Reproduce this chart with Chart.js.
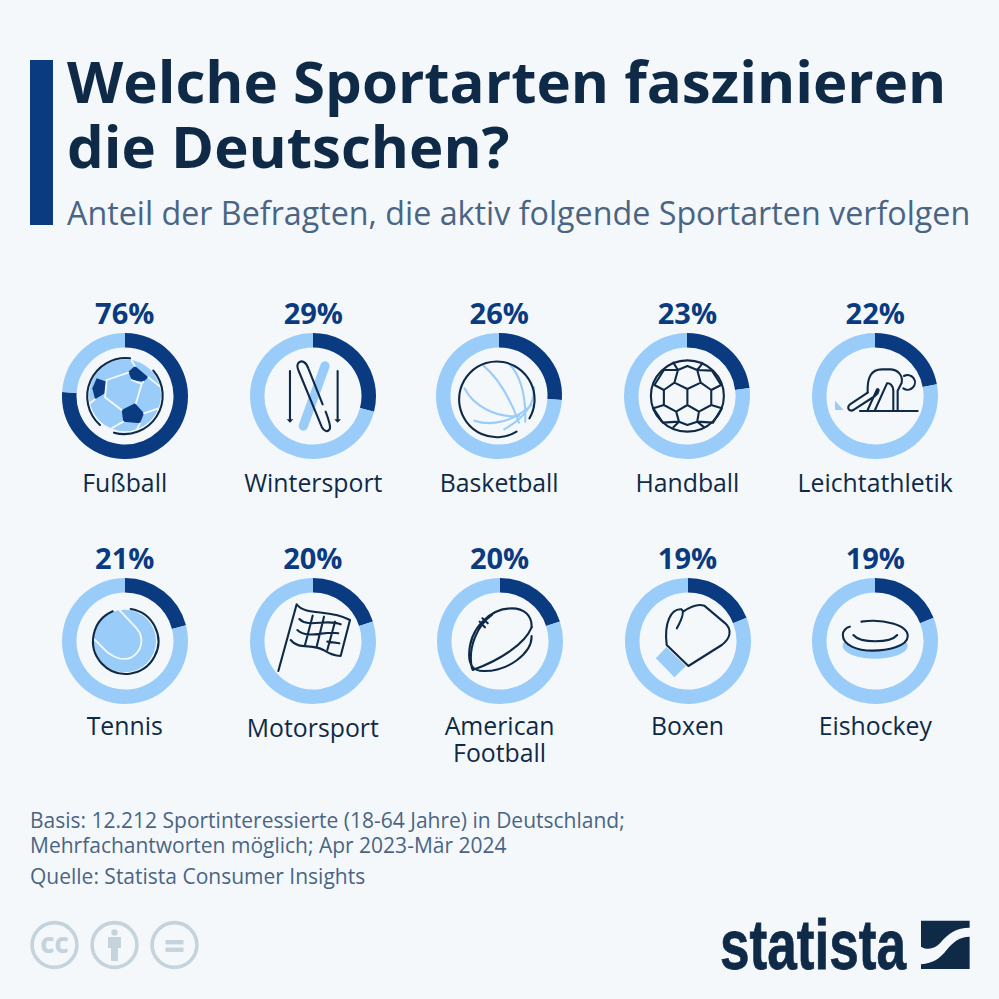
<!DOCTYPE html>
<html lang="de">
<head>
<meta charset="utf-8">
<title>Welche Sportarten faszinieren die Deutschen?</title>
<script src="https://cdn.jsdelivr.net/npm/chart.js@4"></script>
<style>
  html, body { margin: 0; padding: 0; background: #f4f8fb; }
  #page { position: relative; width: 999px; height: 999px; overflow: hidden; background: #f4f8fb; font-family: 'Open Sans', sans-serif; }
  #page canvas { position: absolute; }
  #overlay { position: absolute; left: 0; top: 0; }
  .ln { fill: none; stroke: #0f2a47; stroke-width: 2.1; stroke-linecap: round; stroke-linejoin: round; vector-effect: non-scaling-stroke; }
  .lt { fill: none; stroke: #9accfa; stroke-width: 2.1; stroke-linecap: round; vector-effect: non-scaling-stroke; }
  .wh { fill: none; stroke: #f4f8fb; stroke-width: 1.8; stroke-linecap: round; vector-effect: non-scaling-stroke; }
  .fd { fill: #9accfa; }
  .fn { fill: #0a3a80; }
</style>
</head>
<body>
<div id="page">
  <svg id="overlay" width="999" height="999" xmlns="http://www.w3.org/2000/svg">
    <rect x="30" y="60" width="23" height="165" fill="#0a3a80"/>
    <text font-size="58.2" font-weight="700" fill="#0f2a47">
      <tspan x="67" y="103">Welche Sportarten faszinieren</tspan>
      <tspan x="67" y="168">die Deutschen?</tspan>
    </text>
    <text x="67" y="225" font-size="32.25" fill="#4a6584">Anteil der Befragten, die aktiv folgende Sportarten verfolgen</text>

    <g id="labels"></g>

    <!-- Fußball -->
    <g transform="translate(40,290) scale(.3333)">
      <circle cx="255" cy="316" r="108" class="fd"/>
      <polygon class="fn" points="265,245 285,228 325,262 310,275 275,270"/>
      <polygon class="fn" points="170,265 200,275 195,310 165,328 157,295"/>
      <polygon class="fn" points="285,340 312,370 300,400 250,395 245,360"/>
      <path class="wh" d="M200 270 L265 248 M275 270 L305 282 L288 340 M245 360 L195 322 L200 270 M325 262 L360 290 M312 370 L355 355 M300 400 L290 420 M250 395 L215 415 M165 328 L150 340 M285 228 L275 213 M305 282 L310 275"/>
      <path class="ln" d="M270 205 A115 115 0 0 0 180 405 M222 428 A115 115 0 0 0 340 242"/>
    </g>
    <!-- Wintersport -->
    <g transform="translate(40,290) scale(.3333)">
      <path d="M855 228 L790 408" fill="none" stroke="#9accfa" stroke-width="28" stroke-linecap="round"/>
      <path class="ln" d="M848 343 L805 235 C798 215 785 210 776 218 C770 224 772 232 775 240 L845 410 C852 425 865 428 870 415 C872 405 868 395 857 365"/>
      <path class="ln" d="M750 243 L750 392 M893 243 L893 392"/>
      <polygon points="740,388 760,388 750,398" fill="#0f2a47"/>
      <polygon points="883,388 903,388 893,398" fill="#0f2a47"/>
    </g>
    <!-- Basketball -->
    <g transform="translate(420,290) scale(.3509,.3333)">
      <path class="lt" d="M180 226 C225 265 255 320 282 398 M255 222 C290 262 302 325 300 395 M127 295 C150 345 215 385 282 378 M325 292 C328 345 295 385 240 418 M155 392 C205 410 265 395 318 345"/>
      <path class="ln" d="M275 425 A107.5 113.5 0 1 1 312 385"/>
    </g>
    <!-- Handball -->
    <g transform="translate(420,290) scale(.3509,.3333)">
      <ellipse class="ln" cx="762" cy="318" rx="104" ry="107"/>
      <path class="ln" d="M762 297 L725 278 L695 300 L695 345 L730 365 L762 345 L795 365 L830 345 L830 300 L800 278 L762 297 L762 345 M725 278 L735 240 L762 228 L790 240 L800 278 M730 365 L738 395 L762 405 L790 395 L795 365 M695 300 L668 285 M695 345 L665 355 M830 300 L858 285 M830 345 L860 355 M735 240 L722 218 M790 240 L805 220 M738 395 L722 412 M790 395 L810 412 M668 285 L695 240 L735 240 M858 285 L832 242 L790 240 M665 355 L692 398 L738 395 M860 355 L835 398 L790 395"/>
    </g>
    <!-- Leichtathletik -->
    <g transform="translate(825,360) scale(.3333)">
      <polygon class="fd" points="30,122 30,150 56,150"/>
      <path class="ln" d="M105 153 L278 153 M237 48 A22 22 0 1 1 235 85"/>
      <path class="ln" d="M128 98 C126 50 140 28 170 28 L198 28 C222 30 234 50 230 68 L218 92 L218 153"/>
      <path class="ln" d="M205 153 L205 92 C205 78 195 68 186 70 L150 150"/>
      <path class="ln" d="M128 98 L75 133 C62 145 75 158 88 148 L150 108 C165 95 162 85 156 88 L128 150"/>
    </g>
    <!-- Tennis -->
    <g transform="translate(40,540) scale(.3333)">
      <circle class="fd" cx="254" cy="303" r="94"/>
      <path class="wh" d="M238 210 L290 265 C315 295 305 335 275 352 C245 365 220 350 200 335 L163 298"/>
      <path class="ln" d="M218 214 A98 98 0 1 0 272 207"/>
    </g>
    <!-- Motorsport -->
    <g transform="translate(270,595) scale(.3333)">
      <path class="ln" d="M25 228 L80 28 C110 65 175 40 240 75 L212 183 C195 183 180 178 160 165 C125 145 85 165 62 135"/>
      <path class="ln" d="M88 72 C115 100 170 70 212 88 M82 105 C115 135 165 105 205 115 M172 140 L208 145 M128 62 L105 150 M162 65 L140 155 M195 80 L172 165"/>
    </g>
    <!-- American Football -->
    <g transform="translate(420,540) scale(.3509,.3333)">
      <path class="ln" d="M318 262 C320 225 295 205 262 205 C200 205 140 265 140 345 C140 375 150 392 180 393 C250 395 320 340 318 288"/>
      <path class="ln" d="M150 390 C230 360 300 310 318 262 M148 385 C135 320 165 255 205 225 M165 265 L195 230 M170 245 L185 262 M178 235 L193 250"/>
    </g>
    <!-- Boxen -->
    <g transform="translate(420,540) scale(.3509,.3333)">
      <polygon class="fd" points="702,322 758,378 725,412 672,355"/>
      <path class="ln" d="M732 265 C745 240 755 215 745 208 C715 205 695 250 703 315 L765 378 L860 315 C885 295 890 270 870 250 L810 197 C790 190 770 200 750 215"/>
    </g>
    <!-- Eishockey -->
    <g transform="translate(420,540) scale(.3509,.3333)">
      <ellipse class="fd" cx="1297" cy="318" rx="93" ry="38"/>
      <ellipse cx="1297" cy="287" rx="94" ry="45" fill="#f4f8fb"/>
      <path class="ln" d="M1258 245 C1320 235 1390 255 1390 288 C1390 320 1330 332 1290 332 C1245 332 1205 315 1205 285 C1205 272 1215 262 1225 260 M1235 285 C1255 310 1340 310 1360 285"/>
    </g>

    <text x="30" y="828" font-size="21" fill="#4a6584">Basis: 12.212 Sportinteressierte (18-64 Jahre) in Deutschland;</text>
    <text x="30" y="853" font-size="21" fill="#4a6584">Mehrfachantworten möglich; Apr 2023-Mär 2024</text>
    <text x="30" y="884" font-size="21" fill="#4a6584">Quelle: Statista Consumer Insights</text>

    <!-- Lizenzsymbole -->
    <g fill="none" stroke="#c5d3dd" stroke-width="3.6">
      <circle cx="54.5" cy="945" r="22.4"/>
      <circle cx="114.5" cy="945" r="22.4"/>
      <circle cx="174.5" cy="945" r="22.4"/>
    </g>
    <text x="54.5" y="953" font-size="22" font-weight="800" text-anchor="middle" fill="#c5d3dd">CC</text>
    <g fill="#c5d3dd">
      <circle cx="114.5" cy="932.5" r="3.2"/>
      <path d="M108 937 H121 V948 H118 V961 H111 V948 H108 Z"/>
      <rect x="165.5" y="940" width="18" height="4.4"/>
      <rect x="165.5" y="947.5" width="18" height="4.4"/>
    </g>

    <!-- Logo -->
    <text x="720" y="969" font-size="70" font-weight="700" fill="#0f2a47" stroke="#0f2a47" stroke-width=".8" font-family="'Liberation Sans Narrow', sans-serif" textLength="186" lengthAdjust="spacingAndGlyphs">statista</text>
    <g transform="translate(700,905) scale(.3333)" fill="#0f2a47">
      <path d="M663 47 H809 V68 C770 68 745 85 720 115 C705 130 685 138 663 125 Z"/>
      <path d="M809 95 C780 95 760 110 740 135 C720 160 700 175 663 178 V192 H809 Z"/>
    </g>
  </svg>
</div>
<script>
// Datos
const sports = ['Fußball', 'Wintersport', 'Basketball', 'Handball', 'Leichtathletik', 'Tennis', 'Motorsport', 'American Football', 'Boxen', 'Eishockey']
const shares = [76, 29, 26, 23, 22, 21, 20, 20, 19, 19]

// Layout
const centersX = [124.7, 313.3, 499.2, 687.4, 875.2, 124.7, 312.8, 499.6, 687.5, 875.3]
const centerY = [396.3, 640.8]
const valueY = [324, 569]
const labelY = [491.7, 735, 737]
const radius = 63

const page = document.getElementById('page')
const labels = document.getElementById('labels')
const svgNS = 'http://www.w3.org/2000/svg'

function addText(lines, x, y, size, weight, color) {
  const el = document.createElementNS(svgNS, 'text')
  el.setAttribute('font-size', size)
  el.setAttribute('font-weight', weight)
  el.setAttribute('fill', color)
  el.setAttribute('text-anchor', 'middle')
  lines.forEach((line, n) => {
    const span = document.createElementNS(svgNS, 'tspan')
    span.setAttribute('x', x)
    span.setAttribute('y', y + n * 27)
    span.textContent = line
    el.appendChild(span)
  })
  labels.appendChild(el)
}

// Un gráfico por deporte
sports.forEach((sport, i) => {
  const row = i < 5 ? 0 : 1
  const cx = centersX[i]
  const cy = centerY[row]

  const canvas = document.createElement('canvas')
  canvas.style.left = (cx - radius - 2) + 'px'
  canvas.style.top = (cy - radius - 2) + 'px'
  canvas.style.width = (radius * 2 + 4) + 'px'
  canvas.style.height = (radius * 2 + 4) + 'px'
  page.appendChild(canvas)

  new Chart(canvas.getContext('2d'), {
    type: 'doughnut',
    data: {
      labels: [sport, 'Rest'],
      datasets: [
        {
          data: [shares[i], 100 - shares[i]],
          backgroundColor: ['#0a3a80', '#9accfa'],
          borderWidth: 0,
        },
      ],
    },
    options: {
      responsive: false,
      animation: false,
      cutout: '77%',
      layout: { padding: 2 },
      plugins: {
        legend: { display: false },
        tooltip: { enabled: false },
      },
    },
  })

  addText([shares[i] + '%'], cx, valueY[row], 29, 700, '#0a3a80')

  // Etiqueta del deporte; American Football va en dos líneas
  const y = sport === 'Motorsport' ? labelY[2] : labelY[row]
  const lines = sport === 'American Football' ? sport.split(' ') : [sport]
  addText(lines, cx, y, 24.8, 400, '#0f2a47')
})
</script>
</body>
</html>
